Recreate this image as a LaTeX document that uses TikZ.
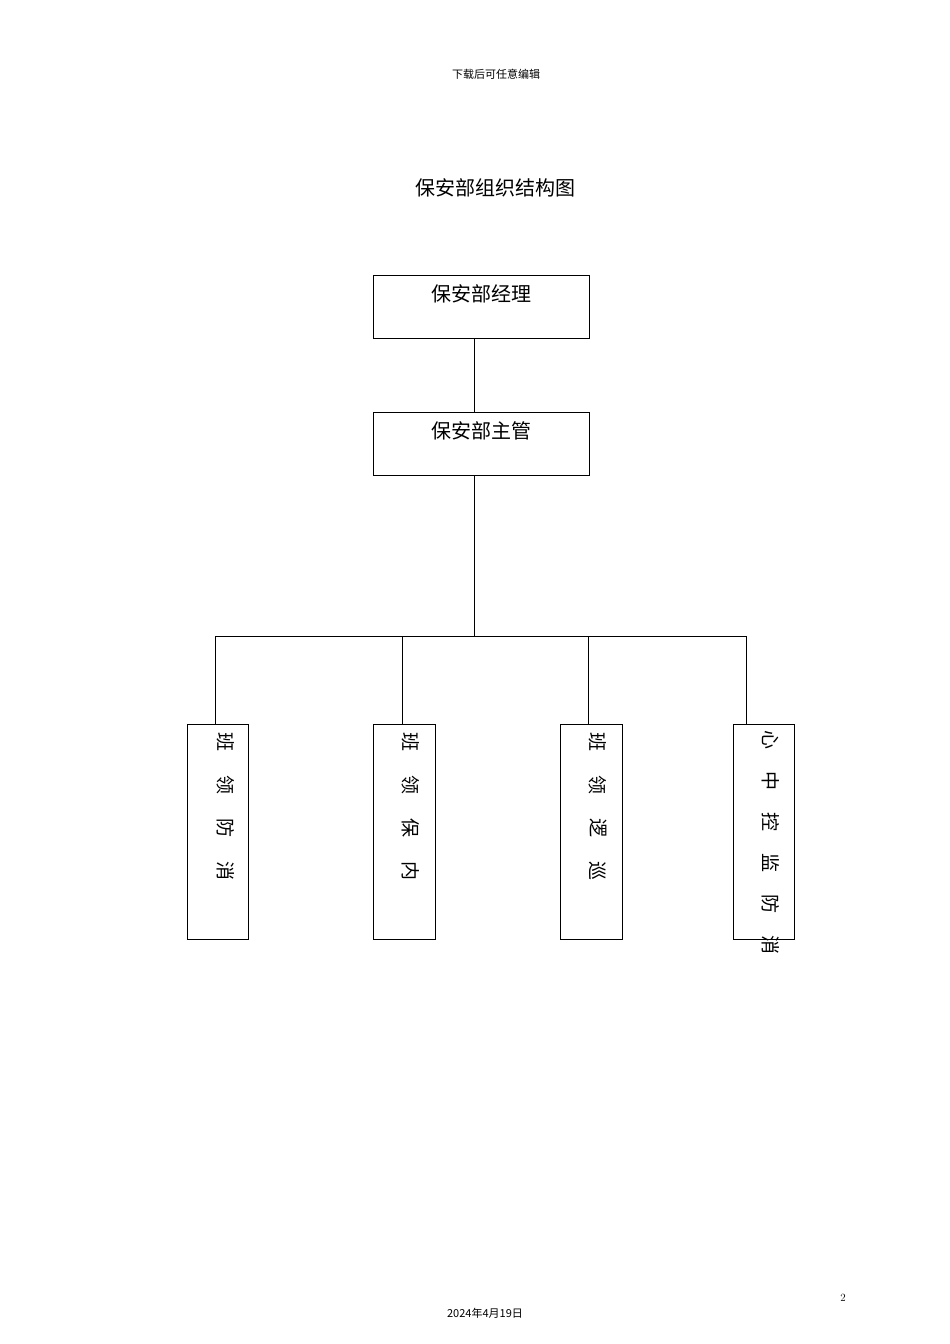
\documentclass[tikz,border=0pt]{standalone}
\usepackage{fontspec}
\newfontfamily\cjk{Noto Sans CJK SC}
\begin{document}
\begin{tikzpicture}[x=1pt,y=-1pt,line width=0.8pt,
  box/.style={draw,minimum width=#1},
  vtext/.style={rotate=-90,font=\cjk\fontsize{19}{19}\selectfont,inner sep=0pt}]
\useasboundingbox (0,0) rectangle (950,1344);
\node (hdr) at (496,74) {\cjk\fontsize{11}{11}\selectfont 下载后可任意编辑};
\node (title) at (495,188) {\cjk\fontsize{20}{20}\selectfont 保安部组织结构图};
\draw (373,275) rectangle (589,338);
\draw (373,412) rectangle (589,475);
\node (m) at (481,294) {\cjk\fontsize{20}{20}\selectfont 保安部经理};
\node (s) at (481,431) {\cjk\fontsize{20}{20}\selectfont 保安部主管};
\coordinate (mb) at (474,338); \coordinate (st) at (474,412);
\coordinate (sb) at (474,475); \coordinate (j) at (474,636);
\draw (mb) -- (st); \draw (sb) -- (j);
\coordinate (h1) at (215,636); \coordinate (h4) at (746,636);
\draw (h1) -- (h4);
\foreach \x in {215,402,588,746} \draw (\x,636) -- (\x,724);
\draw (187,724) rectangle (248,939);
\draw (373,724) rectangle (435,939);
\draw (560,724) rectangle (622,939);
\draw (733,724) rectangle (794,939);
\foreach \c [count=\i] in {班,领,防,消} \node[vtext] (a\i) at (226,699+43*\i) {\c};
\foreach \c [count=\i] in {班,领,保,内} \node[vtext] (b\i) at (411,699+43*\i) {\c};
\foreach \c [count=\i] in {班,领,逻,巡} \node[vtext] (c\i) at (598,699+43*\i) {\c};
\foreach \c [count=\i] in {心,中,控,监,防,消} \node[vtext] (d\i) at (771,699+41*\i) {\c};
\node (pg) at (843,1298) {\fontsize{11}{11}\selectfont 2};
\node (dt) at (485,1313) {\cjk\fontsize{11}{11}\selectfont 2024年4月19日};
\end{tikzpicture}
\end{document}
